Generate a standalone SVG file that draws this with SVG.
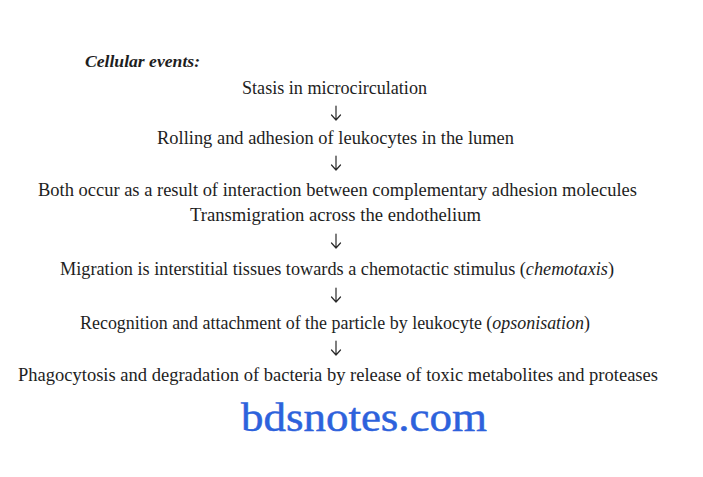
<svg xmlns="http://www.w3.org/2000/svg" width="703" height="477" viewBox="0 0 703 477">
<style>
.t{font-family:"Liberation Serif","DejaVu Serif",serif;font-size:18px;fill:#1e1e1e}
.i{font-style:italic}
.h{font-family:"Liberation Serif","DejaVu Serif",serif;font-size:16px;font-style:italic;font-weight:bold;fill:#1e1e1e}
.w{font-family:"Liberation Serif","DejaVu Serif",serif;font-size:41px;fill:#2d62dc;stroke:#2d62dc;stroke-width:0.5}
.a{stroke:#2a2a2a;stroke-width:1.2;fill:none;stroke-linecap:round;stroke-linejoin:round}
</style>
<rect width="703" height="477" fill="#ffffff"/>
<g id="title"><text class="h" x="85" y="67" textLength="115" lengthAdjust="spacingAndGlyphs">Cellular events:</text></g>
<g id="n1"><text class="t" x="242" y="94" textLength="185" lengthAdjust="spacingAndGlyphs">Stasis in microcirculation</text></g>
<g id="n2"><text class="t" x="157" y="144" textLength="357" lengthAdjust="spacingAndGlyphs">Rolling and adhesion of leukocytes in the lumen</text></g>
<g id="n3"><text class="t" x="38" y="196" textLength="599" lengthAdjust="spacingAndGlyphs">Both occur as a result of interaction between complementary adhesion molecules</text></g>
<g id="n4"><text class="t" x="190" y="221" textLength="291" lengthAdjust="spacingAndGlyphs">Transmigration across the endothelium</text></g>
<g id="n5"><text class="t" x="60" y="275" textLength="554" lengthAdjust="spacingAndGlyphs">Migration is interstitial tissues towards a chemotactic stimulus (<tspan class="i">chemotaxis</tspan>)</text></g>
<g id="n6"><text class="t" x="80" y="329" textLength="510" lengthAdjust="spacingAndGlyphs">Recognition and attachment of the particle by leukocyte (<tspan class="i">opsonisation</tspan>)</text></g>
<g id="n7"><text class="t" x="18" y="381" textLength="640" lengthAdjust="spacingAndGlyphs">Phagocytosis and degradation of bacteria by release of toxic metabolites and proteases</text></g>
<g id="watermark"><text class="w" x="241" y="431" textLength="246" lengthAdjust="spacingAndGlyphs">bdsnotes.com</text></g>
<g id="connectors">
<path class="a" d="M336 106V120M331.5 115L336 120L340.5 115"/>
<path class="a" d="M336 156V170M331.5 165L336 170L340.5 165"/>
<path class="a" d="M336 234V248M331.5 243L336 248L340.5 243"/>
<path class="a" d="M336 288V302M331.5 297L336 302L340.5 297"/>
<path class="a" d="M336 341V355M331.5 350L336 355L340.5 350"/>
</g>
</svg>
